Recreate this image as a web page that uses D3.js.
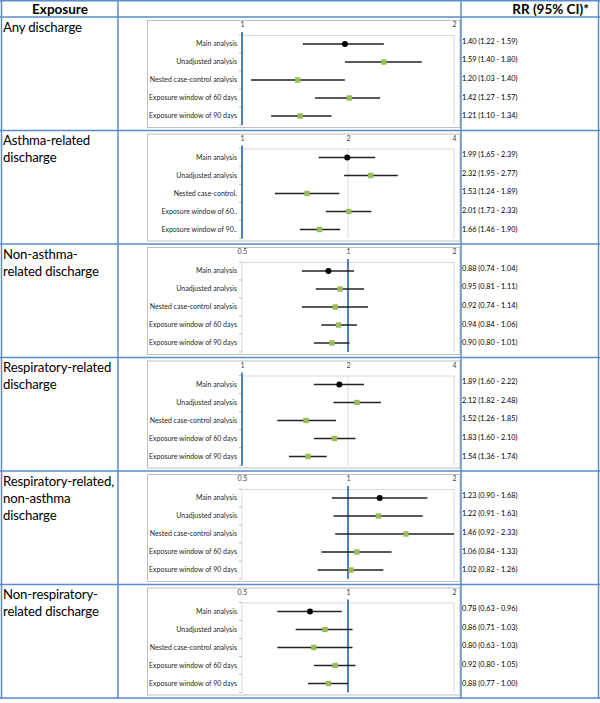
<!DOCTYPE html>
<html><head><meta charset="utf-8">
<script src="https://cdn.jsdelivr.net/npm/d3@7"></script>
<style>body{margin:0;background:#fff}svg{display:block}</style>
</head><body>
<svg id="c" width="600" height="703"></svg>
<script>
const exposures = [["Any discharge"], ["Asthma-related","discharge"], ["Non-asthma-","related discharge"], ["Respiratory-related","discharge"], ["Respiratory-related,","non-asthma","discharge"], ["Non-respiratory-","related discharge"]];
const analyses = ["Main analysis","Unadjusted analysis","Nested case-control analysis","Exposure window of 60 days","Exposure window of 90 days"];
const shortLabels = ["Main analysis","Unadjusted analysis","Nested case-control.","Exposure window of 60..","Exposure window of 90.."];
const useShort = [false,true,false,false,false,false];
const axisDomains = [[1,2],[1,4],[0.5,2],[1,4],[0.5,2],[0.5,2]];
const axisTicks = [[1,2],[1,2,4],[0.5,1,2],[1,2,4],[0.5,1,2],[0.5,1,2]];
const rr    = [[1.40,1.59,1.20,1.42,1.21],[1.99,2.32,1.53,2.01,1.66],[0.88,0.95,0.92,0.94,0.90],[1.89,2.12,1.52,1.83,1.54],[1.23,1.22,1.46,1.06,1.02],[0.78,0.86,0.80,0.92,0.88]];
const lower = [[1.22,1.40,1.03,1.27,1.10],[1.65,1.95,1.24,1.73,1.46],[0.74,0.81,0.74,0.84,0.80],[1.60,1.82,1.26,1.60,1.36],[0.90,0.91,0.92,0.84,0.82],[0.63,0.71,0.63,0.80,0.77]];
const upper = [[1.59,1.80,1.40,1.57,1.34],[2.39,2.77,1.89,2.33,1.90],[1.04,1.11,1.14,1.06,1.01],[2.22,2.48,1.85,2.10,1.74],[1.68,1.63,2.33,1.33,1.26],[0.96,1.03,1.03,1.05,1.00]];

const svg = d3.select("#c");
const F = "Lato, 'Open Sans', sans-serif";
const tableBlue = "#5B8BC8";
const rowY = d3.scaleLinear().domain([0,6]).range([17,698]);
const fmt = d3.format(".2f");

// Header
svg.append("text").attr("x",60).attr("y",14).attr("text-anchor","middle")
  .attr("font-family",F).attr("font-weight","bold").attr("font-size",13.5).text("Exposure");
svg.append("text").attr("x",589).attr("y",14).attr("text-anchor","end")
  .attr("font-family",F).attr("font-weight","bold").attr("font-size",13.5).text("RR (95% CI)*");

exposures.forEach((lines,i)=>{
  const top = rowY(i);
  const g = svg.append("g");
  // exposure label
  const t = g.append("text").attr("font-family",F).attr("font-size",13.2)
    .attr("letter-spacing","-0.15").attr("fill","#000");
  lines.forEach((l,j)=>t.append("tspan").attr("x",3).attr("y",top+14.5+j*17).text(l));

  // chart box
  g.append("rect").attr("x",147.5).attr("y",top+3.5).attr("width",312.5).attr("height",107)
    .attr("fill","#fff").attr("stroke","#bfbfbf");

  const x = d3.scaleLog().domain(axisDomains[i]).range([242,454]);
  const y = d3.scaleBand().domain(analyses).range([top+18, top+108]);
  const yt = d3.scalePoint().domain(analyses).range([top+24, top+24+4*18.7]);
  const pTop = top+18, pBot = top+108;

  // gridlines
  g.selectAll(".grid").data(axisTicks[i]).join("line")
    .attr("x1",d=>x(d)).attr("x2",d=>x(d)).attr("y1",pTop).attr("y2",pBot)
    .attr("stroke","#d9d9d9").attr("stroke-width",1);
  g.append("line").attr("x1",x.range()[0]).attr("x2",x.range()[1]).attr("y1",pTop+0.5).attr("y2",pTop+0.5)
    .attr("stroke","#d9d9d9");
  // left axis ticks between categories
  const bounds = analyses.map(a=>y(a)).concat([pBot]);
  g.selectAll(".yt").data(bounds).join("line")
    .attr("x1",x.range()[0]-3).attr("x2",x.range()[0]).attr("y1",d=>d).attr("y2",d=>d)
    .attr("stroke","#bfbfbf");

  // top x axis labels
  const xa = d3.axisTop(x).tickValues(axisTicks[i]).tickFormat(d=>String(d)).tickSize(0).tickPadding(0);
  const xg = g.append("g").attr("transform",`translate(0,${top+10})`).call(xa);
  xg.select(".domain").remove();
  xg.selectAll("text").attr("font-family",F).attr("font-size",7).attr("fill","#404040").attr("dy","0");

  // y axis labels
  const labs = useShort[i] ? shortLabels : analyses;
  const ya = d3.axisLeft(y).tickSize(0).tickPadding(5).tickFormat((d,k)=>labs[k]);
  const yg = g.append("g").attr("transform",`translate(${x.range()[0]},0)`).call(ya);
  yg.select(".domain").remove();
  yg.selectAll("text").attr("font-family",F).attr("font-size",7).attr("fill","#262626");

  // reference line at 1
  g.append("line").attr("x1",x(1)).attr("x2",x(1)).attr("y1",pTop-3).attr("y2",pBot)
    .attr("stroke","#4F81BD").attr("stroke-width",2);

  const dom = axisDomains[i];
  const data = analyses.map((a,k)=>({a,k,rr:rr[i][k],lo:lower[i][k],hi:upper[i][k]}));
  // error bars
  g.selectAll(".ci").data(data).join("line")
    .attr("x1",d=>x(Math.max(d.lo,dom[0]))).attr("x2",d=>x(Math.min(d.hi,dom[1])))
    .attr("y1",d=>y(d.a)+y.bandwidth()/2).attr("y2",d=>y(d.a)+y.bandwidth()/2)
    .attr("stroke","#222").attr("stroke-width",1.7);
  // markers
  g.selectAll(".pt").data(data.filter(d=>d.k>0)).join("rect")
    .attr("x",d=>x(d.rr)-2.7).attr("y",d=>y(d.a)+y.bandwidth()/2-2.7)
    .attr("width",5.4).attr("height",5.4).attr("fill","#9BBB59");
  g.selectAll(".main").data(data.filter(d=>d.k===0)).join("circle")
    .attr("cx",d=>x(d.rr)).attr("cy",d=>y(d.a)+y.bandwidth()/2).attr("r",3).attr("fill","#000");

  // RR text
  g.selectAll(".rr").data(data).join("text")
    .attr("x",462).attr("y",d=>yt(d.a)).attr("dy","0.35em")
    .attr("font-family",F).attr("font-size",7.3).attr("fill","#000")
    .text(d=>`${fmt(d.rr)} (${fmt(d.lo)} - ${fmt(d.hi)})`);
});

// table lines
const hl = d3.range(7).map(i=>rowY(i)).concat([0.75]);
svg.selectAll(".hl").data(hl).join("line")
  .attr("x1",0).attr("x2",600).attr("y1",d=>d).attr("y2",d=>d)
  .attr("stroke",tableBlue).attr("stroke-width",1.5);
svg.selectAll(".vl").data([1.5,118,461,598.5]).join("line")
  .attr("x1",d=>d).attr("x2",d=>d).attr("y1",0).attr("y2",699)
  .attr("stroke",tableBlue).attr("stroke-width",1.5);
</script>
</body></html>
